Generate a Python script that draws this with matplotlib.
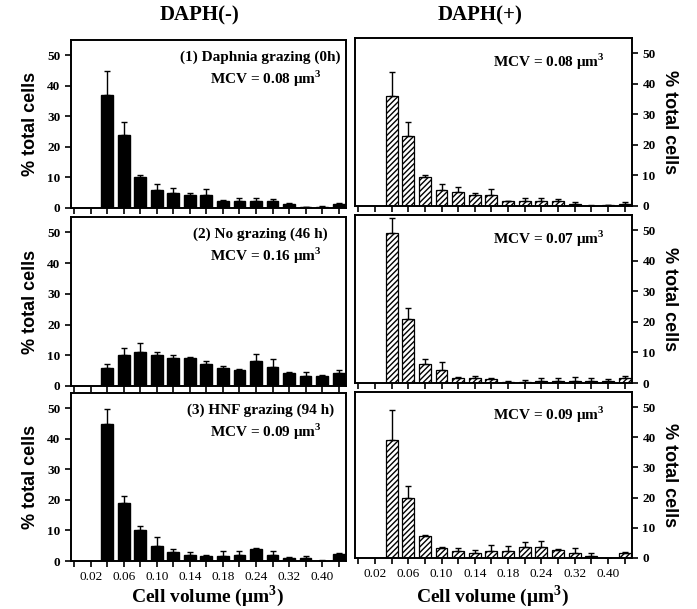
import numpy as np
import matplotlib.pyplot as plt

plt.rcParams["mathtext.fontset"] = "custom"
plt.rcParams["mathtext.rm"] = "Liberation Serif"
plt.rcParams["mathtext.bf"] = "Liberation Serif:bold"

# size classes (categorical positions 0..16), labels on every other class
tick_labels = ["", "0.02", "", "0.06", "", "0.10", "", "0.14", "", "0.18",
               "", "0.24", "", "0.32", "", "0.40", ""]
n_pos = len(tick_labels)
bar_pos = np.arange(2, 17)

# DAPH(-) panels
p1_vals = [37, 24, 10, 6, 5, 4.2, 4.2, 2.2, 2.2, 2.2, 2.3, 1.2, 0.2, 0.4, 1.2]
p1_err = [7.7, 4, 0.7, 1.8, 1.7, 0.8, 2.1, 0.3, 1.2, 1.2, 0.8, 0.3, 0.2, 0.2, 0.4]
p3_vals = [6, 10, 11, 10, 9, 9, 7.2, 6, 5.1, 8.2, 6.2, 4.2, 3.2, 3.2, 4.2]
p3_err = [1, 2.5, 3, 1.2, 1.2, 0.4, 0.8, 0.5, 0.3, 2.2, 2.6, 0.3, 1.2, 0.5, 1.0]
p5_vals = [45, 19, 10, 5, 3, 2, 1.8, 1.8, 2, 4, 2, 1, 1, 0.1, 2.2]
p5_err = [4.8, 2.2, 1.5, 3, 1, 0.8, 0.3, 1.5, 1.2, 0.4, 1.2, 0.3, 0.5, 0.1, 0.4]

# DAPH(+) panels
p2_vals = [36, 23, 9.5, 5.3, 4.5, 3.5, 3.5, 1.5, 1.6, 1.6, 1.8, 0.8, 0.1, 0.2, 0.8]
p2_err = [8, 4.5, 0.6, 1.8, 1.6, 0.7, 2.2, 0.3, 1.0, 1.0, 0.6, 0.4, 0.1, 0.1, 0.4]
p4_vals = [49, 21, 6.3, 4.3, 1.5, 1.5, 1.3, 0.4, 0.4, 0.5, 0.5, 0.5, 0.5, 0.5, 1.7]
p4_err = [5, 3.5, 1.5, 2.5, 0.6, 0.8, 0.4, 0.4, 0.6, 1.2, 1.0, 1.5, 1.3, 0.8, 0.7]
p6_vals = [39, 20, 7.3, 3.2, 2.4, 1.5, 2.4, 2.4, 3.5, 3.8, 2.5, 1.6, 0.7, 0.1, 1.7]
p6_err = [10, 4, 0.4, 0.5, 0.8, 1.2, 2, 1.6, 1.8, 1.8, 0.5, 1.7, 1, 0, 0.3]

left_text = ["(1) Daphnia grazing (0h)", "(2) No grazing (46 h)", "(3) HNF grazing (94 h)"]
left_mcv = ["0.08", "0.16", "0.09"]
right_mcv = ["0.08", "0.07", "0.09"]

serif = "Liberation Serif"
sans = "Liberation Sans"
unit = "\u03bcm$^{\\mathbf{3}}$"

fig = plt.figure(figsize=(6.97, 6.09), dpi=100)
W, H = 697, 609


def box(x0, y0, x1, y1):
    return [x0 / W, 1 - y1 / H, (x1 - x0) / W, (y1 - y0) / H]


left_boxes = [box(71, 40, 346, 208), box(71, 217, 346, 386), box(71, 393, 346, 561)]
right_boxes = [box(355, 38, 632, 206), box(355, 215, 632, 383), box(355, 392, 632, 558)]

left_data = [(p1_vals, p1_err), (p3_vals, p3_err), (p5_vals, p5_err)]
right_data = [(p2_vals, p2_err), (p4_vals, p4_err), (p6_vals, p6_err)]


def draw(ax, vals, err, hatched, side, last):
    if hatched:
        ax.bar(bar_pos, vals, width=0.72, color="white", edgecolor="black",
               hatch="//////", linewidth=0.9, zorder=2)
    else:
        ax.bar(bar_pos, vals, width=0.72, color="black", edgecolor="black", zorder=2)
    ax.errorbar(bar_pos, vals, yerr=[np.zeros(len(err)), err], fmt="none",
                ecolor="black", elinewidth=1, capsize=2.5, capthick=1, zorder=3)
    ax.set_xlim(-0.2, 16.45)
    ax.set_ylim(0, 55)
    ax.set_yticks([0, 10, 20, 30, 40, 50])
    ax.set_xticks(np.arange(n_pos))
    for s in ax.spines.values():
        s.set_linewidth(1.4)
    ax.tick_params(direction="out", length=4, width=1.2, labelsize=9.5)
    if last:
        ax.set_xticklabels(tick_labels, fontfamily=serif, fontsize=9.5)
    else:
        ax.set_xticklabels([])
    if side == "right":
        ax.yaxis.tick_right()
        ax.yaxis.set_label_position("right")
        ax.set_ylabel("% total cells", fontfamily=sans, fontweight="bold",
                      fontsize=13, rotation=270, labelpad=16)
    else:
        ax.set_ylabel("% total cells", fontfamily=sans, fontweight="bold",
                      fontsize=13, labelpad=6)
    for t in ax.get_yticklabels():
        t.set_fontfamily(serif)
        t.set_fontweight("bold")


for i in range(3):
    ax = fig.add_axes(left_boxes[i])
    draw(ax, left_data[i][0], left_data[i][1], False, "left", i == 2)
    ax.text(0.69, 0.895, left_text[i], transform=ax.transAxes, ha="center",
            va="center", fontfamily=serif, fontweight="bold", fontsize=11)
    ax.text(0.71, 0.77, "MCV = " + left_mcv[i] + " " + unit,
            transform=ax.transAxes, ha="center", va="center",
            fontfamily=serif, fontweight="bold", fontsize=11)

    ax = fig.add_axes(right_boxes[i])
    draw(ax, right_data[i][0], right_data[i][1], True, "right", i == 2)
    ax.text(0.70, 0.86, "MCV = " + right_mcv[i] + " " + unit,
            transform=ax.transAxes, ha="center", va="center",
            fontfamily=serif, fontweight="bold", fontsize=11)

fig.text(200 / W, 1 - 15 / H, "DAPH(-)", ha="center", va="center",
         fontfamily=serif, fontweight="bold", fontsize=15)
fig.text(480 / W, 1 - 15 / H, "DAPH(+)", ha="center", va="center",
         fontfamily=serif, fontweight="bold", fontsize=15)

xlab = "Cell volume (" + unit + ")"
fig.text(208 / W, 1 - 596 / H, xlab, ha="center", va="center",
         fontfamily=serif, fontweight="bold", fontsize=14)
fig.text(493 / W, 1 - 596 / H, xlab, ha="center", va="center",
         fontfamily=serif, fontweight="bold", fontsize=14)

fig.savefig("out.png", dpi=100)
